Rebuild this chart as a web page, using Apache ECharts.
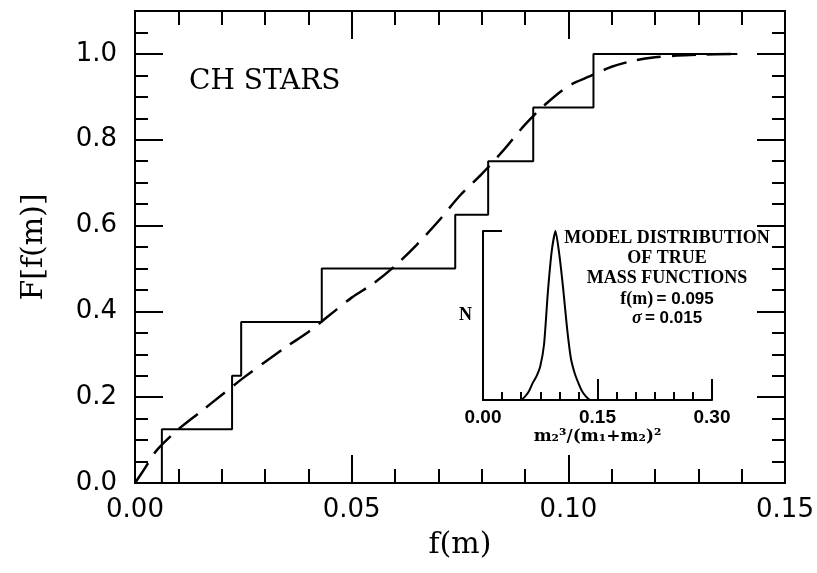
<!DOCTYPE html>
<html><head><meta charset="utf-8">
<script src="https://cdn.jsdelivr.net/npm/echarts@6/dist/echarts.min.js"></script>
<style>html,body{margin:0;padding:0;background:#fff}#c{width:817px;height:573px}</style>
</head><body><div id="c"></div>
<script>
// Empirical cumulative distribution (steps)
const stepX = [0, 0.0062, 0.0224, 0.0245, 0.0431, 0.0739, 0.0815, 0.0919, 0.1058, 0.139];
const stepY = [0, 0.125, 0.25, 0.375, 0.5, 0.625, 0.75, 0.875, 1.0, 1.0];
// Model cumulative distribution (dashed)
const modelX = [0, 0.002, 0.005, 0.01, 0.015, 0.02, 0.025, 0.03, 0.035, 0.04, 0.045, 0.05, 0.055, 0.06, 0.065, 0.07, 0.075, 0.08, 0.085, 0.09, 0.095, 0.10, 0.105, 0.11, 0.115, 0.12, 0.125, 0.13, 0.139];
const modelY = [0, 0.03, 0.076, 0.125, 0.165, 0.205, 0.245, 0.282, 0.318, 0.352, 0.392, 0.432, 0.465, 0.506, 0.555, 0.61, 0.67, 0.72, 0.775, 0.835, 0.885, 0.925, 0.948, 0.97, 0.984, 0.992, 0.996, 0.998, 1.0];
// Inset: model distribution of true mass functions
const insetX = [0.050, 0.055, 0.060, 0.065, 0.070, 0.075, 0.080, 0.085, 0.090, 0.095, 0.100, 0.105, 0.110, 0.115, 0.120, 0.125, 0.130, 0.135, 0.140];
const insetY = [0.00, 0.02, 0.05, 0.10, 0.14, 0.20, 0.33, 0.64, 0.88, 1.00, 0.86, 0.66, 0.43, 0.25, 0.16, 0.10, 0.05, 0.02, 0.00];
// Tick settings
const mainXTicks = [0, 0.05, 0.10, 0.15];
const mainYTicks = [0, 0.2, 0.4, 0.6, 0.8, 1.0];
const insetXTicks = [0, 0.15, 0.30];
const insetLines = ['MODEL DISTRIBUTION', 'OF TRUE', 'MASS FUNCTIONS'];

const BLK = '#000';
const line2 = {lineStyle: {color: BLK, width: 2}};
function xMain(pos, labels) {
  return {
    gridIndex: 0, type: 'value', position: pos,
    min: mainXTicks[0], max: mainXTicks[mainXTicks.length - 1], interval: 0.05,
    axisLine: {show: true, onZero: false, lineStyle: {color: BLK, width: 2}},
    axisTick: {show: true, inside: true, length: 28, lineStyle: {color: BLK, width: 2}},
    minorTick: {show: true, splitNumber: 5, length: 14, lineStyle: {color: BLK, width: 2}},
    splitLine: {show: false}, minorSplitLine: {show: false},
    axisLabel: labels ? {show: true, margin: 14, color: BLK, fontSize: 26, fontFamily: 'DejaVu Sans',
      formatter: v => v.toFixed(2)} : {show: false},
    name: labels ? 'f(m)' : '', nameLocation: 'middle', nameGap: 47,
    nameTextStyle: {color: BLK, fontSize: 30, fontFamily: 'DejaVu Serif'}
  };
}
function yMain(pos, major, labels) {
  return {
    gridIndex: 0, type: 'value', position: pos, min: 0, max: 1.1, interval: major ? 0.2 : 0.05,
    axisLine: {show: major, onZero: false, lineStyle: {color: BLK, width: 2}},
    axisTick: {show: true, inside: true, length: major ? 28 : 13, lineStyle: {color: BLK, width: 2}},
    splitLine: {show: false},
    axisLabel: labels ? {show: true, margin: 18, color: BLK, fontSize: 26, fontFamily: 'DejaVu Sans',
      formatter: v => (v > 1.05 ? '' : v.toFixed(1))} : {show: false},
    name: labels ? 'F[f(m)]' : '', nameLocation: 'middle', nameRotate: 90, nameGap: 86,
    nameTextStyle: {color: BLK, fontSize: 30, fontFamily: 'DejaVu Serif'}
  };
}

const option = {
  animation: false,
  backgroundColor: '#fff',
  grid: [
    {left: 135, right: 32, top: 11, bottom: 90},
    {left: 483, width: 229, top: 231, height: 169}
  ],
  xAxis: [
    xMain('bottom', true),
    xMain('top', false),
    {
      gridIndex: 1, type: 'value', position: 'bottom', min: insetXTicks[0], max: insetXTicks[2], interval: 0.15,
      axisLine: {show: true, onZero: false, lineStyle: {color: BLK, width: 2}},
      axisTick: {show: true, inside: true, length: 21, lineStyle: {color: BLK, width: 2}},
      minorTick: {show: true, splitNumber: 6, length: 8, lineStyle: {color: BLK, width: 2}},
      splitLine: {show: false},
      axisLabel: {show: true, margin: 8, color: BLK, fontSize: 19, fontWeight: 'bold', fontFamily: 'Liberation Sans',
        formatter: v => v.toFixed(2)},
      name: 'm\u2082\u00B3/(m\u2081+m\u2082)\u00B2', nameLocation: 'middle', nameGap: 25,
      nameTextStyle: {color: BLK, fontSize: 17, fontWeight: 'bold', fontFamily: 'DejaVu Serif'}
    }
  ],
  yAxis: [
    yMain('left', true, true),
    yMain('left', false, false),
    yMain('right', true, false),
    yMain('right', false, false),
    {
      gridIndex: 1, type: 'value', position: 'left', min: 0, max: 1, interval: 1,
      axisLine: {show: true, onZero: false, lineStyle: {color: BLK, width: 2}},
      axisTick: {show: true, inside: true, length: 19, lineStyle: {color: BLK, width: 2}},
      splitLine: {show: false}, axisLabel: {show: false},
      name: 'N', nameLocation: 'middle', nameRotate: 0, nameGap: 11,
      nameTextStyle: {color: BLK, fontSize: 18, fontWeight: 'bold', fontFamily: 'Liberation Serif'}
    }
  ],
  series: [
    {type: 'line', xAxisIndex: 0, yAxisIndex: 0, step: 'end', symbol: 'none',
      data: stepX.map((x, i) => [x, stepY[i]]), lineStyle: {color: BLK, width: 2}},
    {type: 'line', xAxisIndex: 0, yAxisIndex: 0, symbol: 'none', smooth: 0.3,
      data: modelX.map((x, i) => [x, modelY[i]]), lineStyle: {color: BLK, width: 2.5, type: [24, 11]}},
    {type: 'line', xAxisIndex: 2, yAxisIndex: 4, symbol: 'none', smooth: 0.2,
      data: insetX.map((x, i) => [x, insetY[i]]), lineStyle: {color: BLK, width: 2}}
  ],
  graphic: [
    {type: 'text', x: 189, y: 82, style: {text: 'CH STARS', fill: BLK, fontSize: 28, fontFamily: 'DejaVu Serif', align: 'left', verticalAlign: 'middle'}},
    ...insetLines.map((t, i) => ({type: 'text', x: 667, y: 238 + i * 20,
      style: {text: t, fill: BLK, fontSize: 18, fontWeight: 'bold', fontFamily: 'Liberation Serif', align: 'center', verticalAlign: 'middle'}})),
    {type: 'text', x: 667, y: 299, style: {
      text: '{a|f(m)} {b|= 0.095}', align: 'center', verticalAlign: 'middle', fill: BLK,
      rich: {a: {fontSize: 18, fontWeight: 'bold', fontFamily: 'Liberation Serif', fill: BLK},
             b: {fontSize: 17, fontWeight: 'bold', fontFamily: 'Liberation Sans', fill: BLK}}}},
    {type: 'text', x: 667, y: 318, style: {
      text: '{a|\u03C3} {b|= 0.015}', align: 'center', verticalAlign: 'middle', fill: BLK,
      rich: {a: {fontSize: 18, fontWeight: 'bold', fontStyle: 'italic', fontFamily: 'Liberation Serif', fill: BLK},
             b: {fontSize: 17, fontWeight: 'bold', fontFamily: 'Liberation Sans', fill: BLK}}}}
  ]
};
const chart = echarts.init(document.getElementById('c'), null, {renderer: 'canvas'});
chart.setOption(option);
</script>
</body></html>
